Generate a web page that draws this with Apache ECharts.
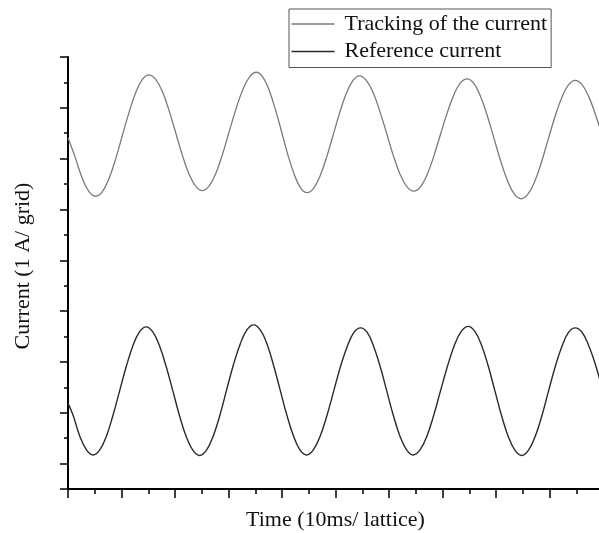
<!DOCTYPE html>
<html>
<head>
<meta charset="utf-8">
<script src="https://cdn.jsdelivr.net/npm/echarts@6/dist/echarts.min.js"></script>
<style>
html,body{margin:0;padding:0;background:#fff;}
#chart{width:599px;height:533px;}
</style>
</head>
<body>
<div id="chart"></div>
<script>
// Time in ms (10 ms per lattice), current in A (1 A per grid)
var trackingTime = [0, 1.43, 2.68, 3.93, 5.18, 6.43, 7.67, 8.92, 10.17, 11.41, 12.66, 13.9, 15.15,
  16.39, 17.64, 18.88, 20.13, 21.37, 22.61, 23.86, 25.1,
  26.36, 27.63, 28.89, 30.15, 31.41, 32.68, 33.94, 35.2,
  36.39, 37.58, 38.76, 39.95, 41.14, 42.33, 43.51, 44.7,
  45.93, 47.15, 48.38, 49.6, 50.83, 52.05, 53.28, 54.5,
  55.76, 57.03, 58.29, 59.55, 60.81, 62.08, 63.34, 64.6,
  65.85, 67.1, 68.35, 69.6, 70.85, 72.1, 73.35, 74.6,
  75.86, 77.13, 78.39, 79.65, 80.91, 82.18, 83.44, 84.7,
  85.96, 87.23, 88.49, 89.75, 91.01, 92.28, 93.54, 94.8,
  96.05, 97.3, 98.55, 99.8, 100];
var trackingCurrent = [6.41, 6.00, 5.61, 5.35, 5.26, 5.35, 5.61, 6.00, 6.46, 6.91, 7.30, 7.56, 7.65,
  7.56, 7.32, 6.95, 6.51, 6.07, 5.70, 5.46, 5.37,
  5.46, 5.71, 6.09, 6.54, 6.98, 7.36, 7.61, 7.70,
  7.61, 7.35, 6.97, 6.52, 6.06, 5.68, 5.42, 5.33,
  5.42, 5.67, 6.04, 6.48, 6.92, 7.29, 7.54, 7.63,
  7.54, 7.30, 6.93, 6.50, 6.06, 5.69, 5.45, 5.36,
  5.44, 5.68, 6.04, 6.47, 6.89, 7.25, 7.49, 7.57,
  7.48, 7.22, 6.84, 6.39, 5.94, 5.56, 5.30, 5.21,
  5.30, 5.55, 5.93, 6.38, 6.82, 7.20, 7.45, 7.54,
  7.46, 7.23, 6.88, 6.48, 6.40];
var referenceTime = [0, 0.95, 2.2, 3.45, 4.7, 5.94, 7.18, 8.41, 9.65, 10.89, 12.13, 13.36, 14.6,
  15.85, 17.1, 18.35, 19.6, 20.85, 22.1, 23.35, 24.6,
  25.86, 27.13, 28.39, 29.65, 30.91, 32.18, 33.44, 34.7,
  35.94, 37.18, 38.41, 39.65, 40.89, 42.13, 43.36, 44.6,
  45.86, 47.13, 48.39, 49.65, 50.91, 52.18, 53.44, 54.7,
  55.93, 57.15, 58.38, 59.6, 60.83, 62.05, 63.28, 64.5,
  65.79, 67.08, 68.36, 69.65, 70.94, 72.23, 73.51, 74.8,
  76.05, 77.3, 78.55, 79.8, 81.05, 82.3, 83.55, 84.8,
  86.05, 87.3, 88.55, 89.8, 91.05, 92.3, 93.55, 94.8,
  96.05, 97.3, 98.55, 99.8, 100];
var referenceCurrent = [1.19, 0.95, 0.54, 0.27, 0.17, 0.27, 0.54, 0.95, 1.43, 1.91, 2.32, 2.59, 2.69,
  2.59, 2.32, 1.91, 1.43, 0.94, 0.53, 0.26, 0.16,
  0.26, 0.54, 0.95, 1.45, 1.94, 2.35, 2.63, 2.73,
  2.63, 2.36, 1.94, 1.45, 0.96, 0.55, 0.27, 0.17,
  0.27, 0.54, 0.94, 1.42, 1.90, 2.30, 2.58, 2.67,
  2.58, 2.30, 1.90, 1.42, 0.94, 0.54, 0.27, 0.17,
  0.27, 0.54, 0.95, 1.44, 1.92, 2.33, 2.60, 2.70,
  2.60, 2.33, 1.92, 1.43, 0.94, 0.53, 0.26, 0.16,
  0.26, 0.53, 0.93, 1.42, 1.90, 2.30, 2.58, 2.67,
  2.59, 2.33, 1.96, 1.50, 1.43];
var seriesNames = ['Tracking of the current', 'Reference current'];
var xAxisName = 'Time (10ms/ lattice)';
var yAxisName = 'Current (1 A/ grid)';

function pairs(t, v) {
  var out = [];
  for (var i = 0; i < t.length; i++) out.push([t[i], v[i]]);
  return out;
}

var FONT = "'Liberation Serif', 'Times New Roman', serif";
var chart = echarts.init(document.getElementById('chart'), null, {renderer: 'canvas'});
chart.setOption({
  animation: false,
  backgroundColor: '#ffffff',
  grid: {left: 68, top: 57, width: 535, bottom: 44, containLabel: false, outerBoundsMode: 'none'},
  legend: {
    data: seriesNames,
    orient: 'vertical',
    left: 289,
    top: 9,
    padding: [4, 4, 5, 2.5],
    icon: 'rect',
    itemWidth: 43,
    itemHeight: 1.3,
    itemGap: 5.5,
    borderColor: '#555555',
    borderWidth: 1,
    backgroundColor: '#ffffff',
    textStyle: {fontFamily: FONT, fontSize: 22, color: '#111111', lineHeight: 22, padding: [0, 0, 0, 5]}
  },
  xAxis: {
    type: 'value',
    min: 0,
    max: 100,
    interval: 10,
    name: xAxisName,
    nameLocation: 'middle',
    nameGap: 20,
    nameTextStyle: {fontFamily: FONT, fontSize: 22, color: '#111111'},
    axisLine: {show: true, onZero: false, lineStyle: {color: '#000000', width: 2}},
    axisTick: {show: true, inside: false, length: 9, lineStyle: {color: '#000000', width: 1.5}},
    minorTick: {show: true, splitNumber: 2, length: 5, lineStyle: {color: '#000000', width: 1.5}},
    axisLabel: {show: false},
    splitLine: {show: false},
    minorSplitLine: {show: false}
  },
  yAxis: [{
    type: 'value',
    min: -0.5,
    max: 8,
    interval: 0.5,
    position: 'left',
    name: yAxisName,
    nameLocation: 'middle',
    nameGap: 34,
    nameTextStyle: {fontFamily: FONT, fontSize: 22, color: '#111111', padding: [0, 0, 0, 14]},
    axisLine: {show: true, onZero: false, lineStyle: {color: '#000000', width: 2}},
    axisTick: {show: true, inside: false, length: 4, lineStyle: {color: '#000000', width: 1.5}},
    axisLabel: {show: false},
    splitLine: {show: false}
  }, {
    type: 'value',
    min: 0,
    max: 8.5,
    interval: 1,
    inverse: true,
    position: 'left',
    offset: 0,
    axisLine: {show: false},
    axisTick: {show: true, inside: false, length: 8, lineStyle: {color: '#000000', width: 1.5}},
    axisLabel: {show: false},
    splitLine: {show: false}
  }],
  series: [{
    name: seriesNames[0],
    type: 'line',
    yAxisIndex: 0,
    data: pairs(trackingTime, trackingCurrent),
    smooth: 0.4,
    symbol: 'none',
    lineStyle: {color: '#7a7a7a', width: 1.3},
    itemStyle: {color: '#7a7a7a'}
  }, {
    name: seriesNames[1],
    type: 'line',
    yAxisIndex: 0,
    data: pairs(referenceTime, referenceCurrent),
    smooth: 0.4,
    symbol: 'none',
    lineStyle: {color: '#2a2a2a', width: 1.4},
    itemStyle: {color: '#2a2a2a'}
  }]
});
</script>
</body>
</html>
